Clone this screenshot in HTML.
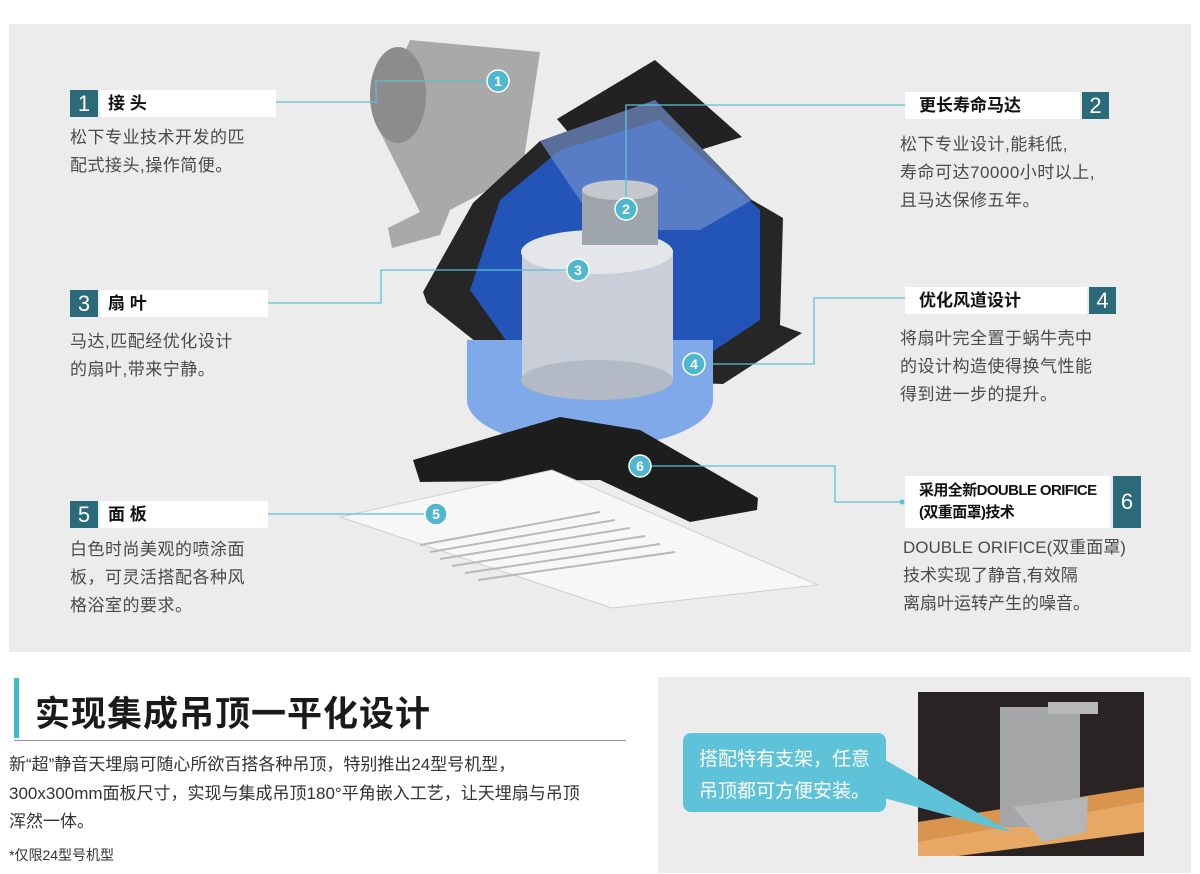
<!DOCTYPE html>
<html><head><meta charset="utf-8"><style>
*{margin:0;padding:0;box-sizing:border-box}
body{width:1200px;height:874px;background:#fff;position:relative;overflow:hidden;font-family:"Liberation Sans","Noto Sans CJK SC",sans-serif;color:#444}
.a{position:absolute;white-space:nowrap}
.num{position:absolute;background:#2b6a78;color:#fff;font-size:22px;text-align:center;line-height:27px}
.bar{position:absolute;background:#fff;height:27px;font-weight:bold;color:#111;font-size:17px;line-height:27px;white-space:nowrap}
.d{position:absolute;font-size:17px;line-height:28px;color:#4a4a4a;letter-spacing:0.5px;white-space:nowrap}
</style></head><body>
<div class="a" style="left:9px;top:24px;width:1182px;height:628px;background:#ececec"></div>
<svg class="a" style="left:0;top:0" width="1200" height="660">
<polygon points="410,40 540,52 522,172 450,210 440,235 392,248 388,228 420,212 375,122" fill="#a9a9a9"/>
<ellipse cx="398" cy="95" rx="28" ry="48" fill="#8c8c8c"/>
<polygon points="557,119 655,60 742,137 700,150 600,170" fill="#222"/>
<polygon points="423,292 473,203 540,141 655,100 752,200 783,218 780,325 802,333 723,384 520,377 427,303" fill="#262626"/>
<polygon points="470,290 500,200 560,150 660,120 760,210 760,320 700,360 520,360" fill="#2354b8"/>
<polygon points="540,141 655,100 752,200 700,230 600,230" fill="#6f8fcc" opacity="0.7"/>
<ellipse cx="590" cy="400" rx="123" ry="48" fill="#7fa9e8"/>
<rect x="467" y="340" width="246" height="60" fill="#7fa9e8"/>
<rect x="522" y="250" width="151" height="130" fill="#c9ced8"/>
<ellipse cx="597" cy="252" rx="76" ry="22" fill="#e4e6ea"/>
<ellipse cx="597" cy="380" rx="76" ry="20" fill="#b3bac6"/>
<rect x="582" y="190" width="76" height="55" fill="#9ea5ad"/>
<ellipse cx="620" cy="190" rx="38" ry="10" fill="#c5c9cf"/>
<polygon points="413,460 560,417 640,430 758,498 757,510 690,522 600,480 420,482" fill="#1d1d1d"/>
<polygon points="340,517 552,470 818,585 612,608" fill="#f7f7f7" stroke="#cfcfcf"/>
<g stroke="#b9b9b9" stroke-width="2">
<line x1="420" y1="545" x2="600" y2="512"/><line x1="430" y1="552" x2="615" y2="520"/>
<line x1="440" y1="559" x2="630" y2="528"/><line x1="452" y1="566" x2="645" y2="536"/>
<line x1="465" y1="573" x2="660" y2="544"/><line x1="478" y1="580" x2="675" y2="552"/>
</g>
<g stroke="#5bc0d5" stroke-width="1.3" fill="none">
<polyline points="266,102 376,102 376,81 498,81"/>
<polyline points="912,105 626,105 626,209"/>
<polyline points="258,303 381,303 381,270 578,270"/>
<polyline points="912,298 814,298 814,364 694,364"/>
<polyline points="258,514 436,514"/>
<polyline points="902,502 835,502 835,466 640,466"/>
</g>
<g fill="#5bc0d5"><circle cx="266" cy="102" r="2.5"/><circle cx="258" cy="303" r="2.5"/><circle cx="258" cy="514" r="2.5"/><circle cx="912" cy="105" r="2.5"/><circle cx="912" cy="298" r="2.5"/><circle cx="902" cy="502" r="2.5"/></g>
<g fill="#4fb8cf" stroke="#fff" stroke-width="1.5">
<circle cx="498" cy="81" r="11"/><circle cx="626" cy="209" r="11"/><circle cx="578" cy="270" r="11"/><circle cx="694" cy="364" r="11"/><circle cx="436" cy="514" r="11"/><circle cx="640" cy="466" r="11"/></g>
<g fill="#fff" font-size="14" font-weight="bold" text-anchor="middle" font-family="Liberation Sans">
<text x="498" y="86">1</text><text x="626" y="214">2</text><text x="578" y="275">3</text><text x="694" y="369">4</text><text x="436" y="519">5</text><text x="640" y="471">6</text></g>
</svg>
<div class="num" style="left:70px;top:90px;width:28px;height:27px">1</div>
<div class="bar" style="left:100px;top:90px;width:176px;padding-left:8px">接 头</div>
<div class="d" style="left:70px;top:124px">松下专业技术开发的匹<br>配式接头,操作简便。</div>
<div class="num" style="left:70px;top:290px;width:28px;height:27px">3</div>
<div class="bar" style="left:100px;top:290px;width:168px;padding-left:8px">扇 叶</div>
<div class="d" style="left:70px;top:328px">马达,匹配经优化设计<br>的扇叶,带来宁静。</div>
<div class="num" style="left:70px;top:501px;width:28px;height:27px">5</div>
<div class="bar" style="left:100px;top:501px;width:168px;padding-left:8px">面 板</div>
<div class="d" style="left:70px;top:536px">白色时尚美观的喷涂面<br>板，可灵活搭配各种风<br>格浴室的要求。</div>
<div class="bar" style="left:905px;top:92px;width:175px;padding-left:14px">更长寿命马达</div>
<div class="num" style="left:1082px;top:92px;width:27px;height:27px">2</div>
<div class="d" style="left:900px;top:131px">松下专业设计,能耗低,<br>寿命可达70000小时以上,<br>且马达保修五年。</div>
<div class="bar" style="left:905px;top:287px;width:182px;padding-left:14px">优化风道设计</div>
<div class="num" style="left:1089px;top:287px;width:27px;height:27px">4</div>
<div class="d" style="left:900px;top:325px">将扇叶完全置于蜗牛壳中<br>的设计构造使得换气性能<br>得到进一步的提升。</div>
<div class="bar" style="left:905px;top:476px;width:205px;height:52px;padding-left:14px;line-height:22px;padding-top:4px;font-size:15px;letter-spacing:-0.6px">采用全新DOUBLE ORIFICE<br>(双重面罩)技术</div>
<div class="num" style="left:1113px;top:476px;width:28px;height:52px;line-height:52px">6</div>
<div class="d" style="left:903px;top:534px;letter-spacing:0">DOUBLE ORIFICE(双重面罩)<br>技术实现了静音,有效隔<br>离扇叶运转产生的噪音。</div>
<div class="a" style="left:14px;top:678px;width:5px;height:60px;background:#3bbcc8"></div>
<div class="a" style="left:35px;top:686px;font-size:35px;font-weight:bold;color:#1a1a1a;letter-spacing:1px">实现集成吊顶一平化设计</div>
<div class="a" style="left:14px;top:740px;width:612px;height:1px;background:#999"></div>
<div class="a" style="left:9px;top:751px;font-size:17px;line-height:28.5px;color:#333">新“超”静音天埋扇可随心所欲百搭各种吊顶，特别推出24型号机型，<br>300x300mm面板尺寸，实现与集成吊顶180°平角嵌入工艺，让天埋扇与吊顶<br>浑然一体。</div>
<div class="a" style="left:9px;top:845px;font-size:14px;color:#333">*仅限24型号机型</div>
<div class="a" style="left:658px;top:677px;width:533px;height:196px;background:#ececec"></div>
<svg class="a" style="left:918px;top:692px" width="226" height="164">
<rect width="226" height="164" fill="#2a2323"/>
<polygon points="0,130 226,95 226,115 0,164" fill="#d9944e"/>
<polygon points="0,150 226,110 226,140 40,164 0,164" fill="#e8a865"/>
<rect x="82" y="15" width="80" height="120" fill="#a4a6a8"/>
<rect x="130" y="10" width="50" height="12" fill="#b7b9bb"/>
<polygon points="95,115 170,105 168,140 125,150" fill="#b4b6b8"/>
</svg>
<svg class="a" style="left:683px;top:733px" width="340" height="100">
<polygon points="190,20 190,62 330,100" fill="#5ec3d8"/>
<rect x="0" y="0" width="203" height="79" rx="8" fill="#5ec3d8"/>
</svg>
<div class="a" style="left:699px;top:744px;font-size:19px;line-height:32px;color:#fff">搭配特有支架，任意<br>吊顶都可方便安装。</div>
</body></html>
